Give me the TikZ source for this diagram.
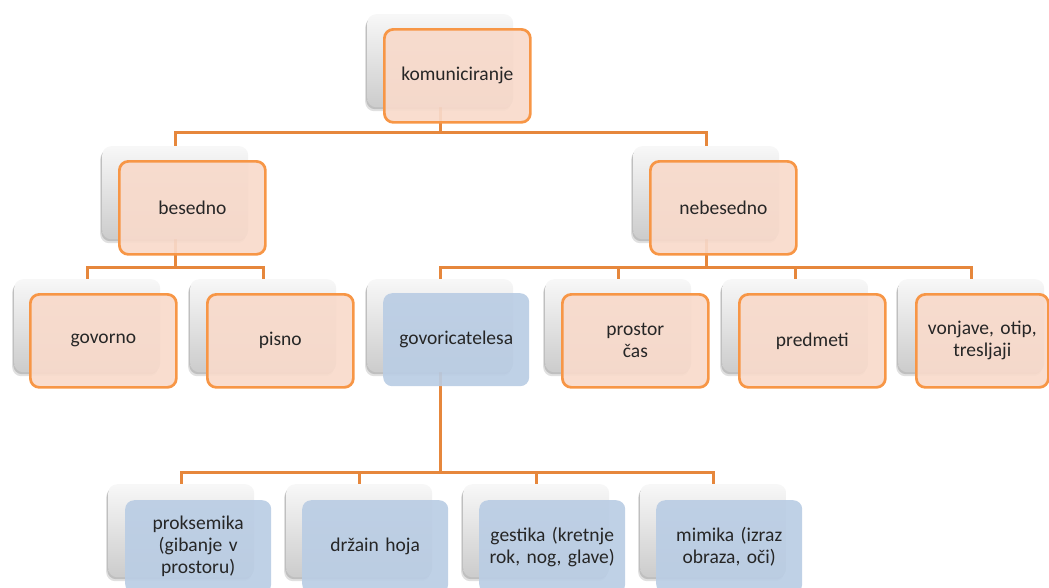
\documentclass[tikz,border=0pt]{standalone}
\usepackage{fontspec}
\setmainfont{Carlito}
\usetikzlibrary{shadows}

\definecolor{connor}{HTML}{E6873C}
\definecolor{edgeor}{HTML}{F79646}
\definecolor{peach}{HTML}{F8DACB}
\definecolor{paleblue}{HTML}{BACDE4}
\definecolor{inkgrey}{HTML}{262626}

\pgfdeclarelayer{bg}
\pgfsetlayers{bg,main}

\tikzset{
  backbox/.style={anchor=north west, minimum width=146pt, minimum height=93pt,
    inner sep=0pt, rounded corners=9pt, top color=white!97!black,
    bottom color=black!20,
    drop shadow={shadow xshift=-2pt, shadow yshift=-4pt, opacity=0.12, fill=black},
    drop shadow={shadow xshift=-1pt, shadow yshift=-2pt, opacity=0.15, fill=black}},
  frontbox/.style={anchor=north west, minimum width=146pt, minimum height=93pt,
    inner sep=1pt, rounded corners=9pt, align=center, text=inkgrey,
    font=\fontsize{19.5}{22}\selectfont\frenchspacing, text width=142pt},
  orbox/.style={frontbox, fill=peach, fill opacity=0.92, text opacity=1,
    draw=edgeor, line width=2.7pt, draw opacity=1},
  bluebox/.style={frontbox, fill=paleblue, fill opacity=0.92, text opacity=1},
  conn/.style={draw=connor, line width=3pt}
}

\begin{document}
\begin{tikzpicture}[x=1pt,y=-1pt]
\useasboundingbox (0,0) rectangle (1049,587);
\clip (0,0) rectangle (1049,587);

% back cards
\node[backbox] (bkKom)  at (367,14)  {};
\node[backbox] (bkBes)  at (102,146) {};
\node[backbox] (bkNeb)  at (633,146) {};
\node[backbox] (bkGov)  at (14,279)  {};
\node[backbox] (bkPis)  at (190,279) {};
\node[backbox] (bkTel)  at (367,279) {};
\node[backbox] (bkPro)  at (545,279) {};
\node[backbox] (bkPre)  at (722,279) {};
\node[backbox] (bkVon)  at (898,279) {};
\node[backbox] (bkProk) at (108,484) {};
\node[backbox] (bkDrz)  at (286,484) {};
\node[backbox] (bkGes)  at (463,484) {};
\node[backbox] (bkMim)  at (640,484) {};

% front cards
\node[orbox] (frKom) at (383,28)  {komuniciranje};
\node[orbox] (frBes) at (118,160) {besedno};
\node[orbox] (frNeb) at (649,160) {nebesedno};
\node[orbox] (frGov) at (29,293)  {govorno};
\node[orbox] (frPis) at (206,293) {pisno};
\node[bluebox] (frTel) at (383,293) {govoricatelesa};
\node[orbox] (frPro) at (561,293) {prostor\\ čas};
\node[orbox] (frPre) at (738,293) {predmeti};
\node[orbox, minimum width=132pt, text width=128pt] (frVon) at (915,293) {vonjave, otip,\\ tresljaji};
\node[bluebox] (frProk) at (125,500) {proksemika\\ (gibanje v\\ prostoru)};
\node[bluebox] (frDrz)  at (302,500) {držain hoja};
\node[bluebox] (frGes)  at (479,500) {gestika (kretnje\\ rok, nog, glave)};
\node[bluebox] (frMim)  at (656,500) {mimika (izraz\\ obraza, oči)};

% heights of the horizontal bars
\coordinate (barA) at (0,132);
\coordinate (barB) at (0,267);
\coordinate (barC) at (0,472);

\begin{pgfonlayer}{bg}
  \draw[conn] (bkKom.center) -- (bkKom.center |- barA) -| (bkBes.north);
  \draw[conn] (bkKom.center |- barA) -| (bkNeb.north);

  \draw[conn] (bkBes.center) -- (bkBes.center |- barB) -| (bkGov.north);
  \draw[conn] (bkBes.center |- barB) -| (bkPis.north);

  \draw[conn] (bkNeb.center) -- (bkNeb.center |- barB) -| (bkTel.north);
  \draw[conn] (bkNeb.center |- barB) -| (bkPro.north);
  \draw[conn] (bkNeb.center |- barB) -| (bkPre.north);
  \draw[conn] (bkNeb.center |- barB) -| (bkVon.north);

  \draw[conn] (bkTel.center) -- (bkTel.center |- barC) -| (bkProk.north);
  \draw[conn] (bkTel.center |- barC) -| (bkDrz.north);
  \draw[conn] (bkTel.center |- barC) -| (bkGes.north);
  \draw[conn] (bkTel.center |- barC) -| (bkMim.north);
\end{pgfonlayer}
\end{tikzpicture}
\end{document}
